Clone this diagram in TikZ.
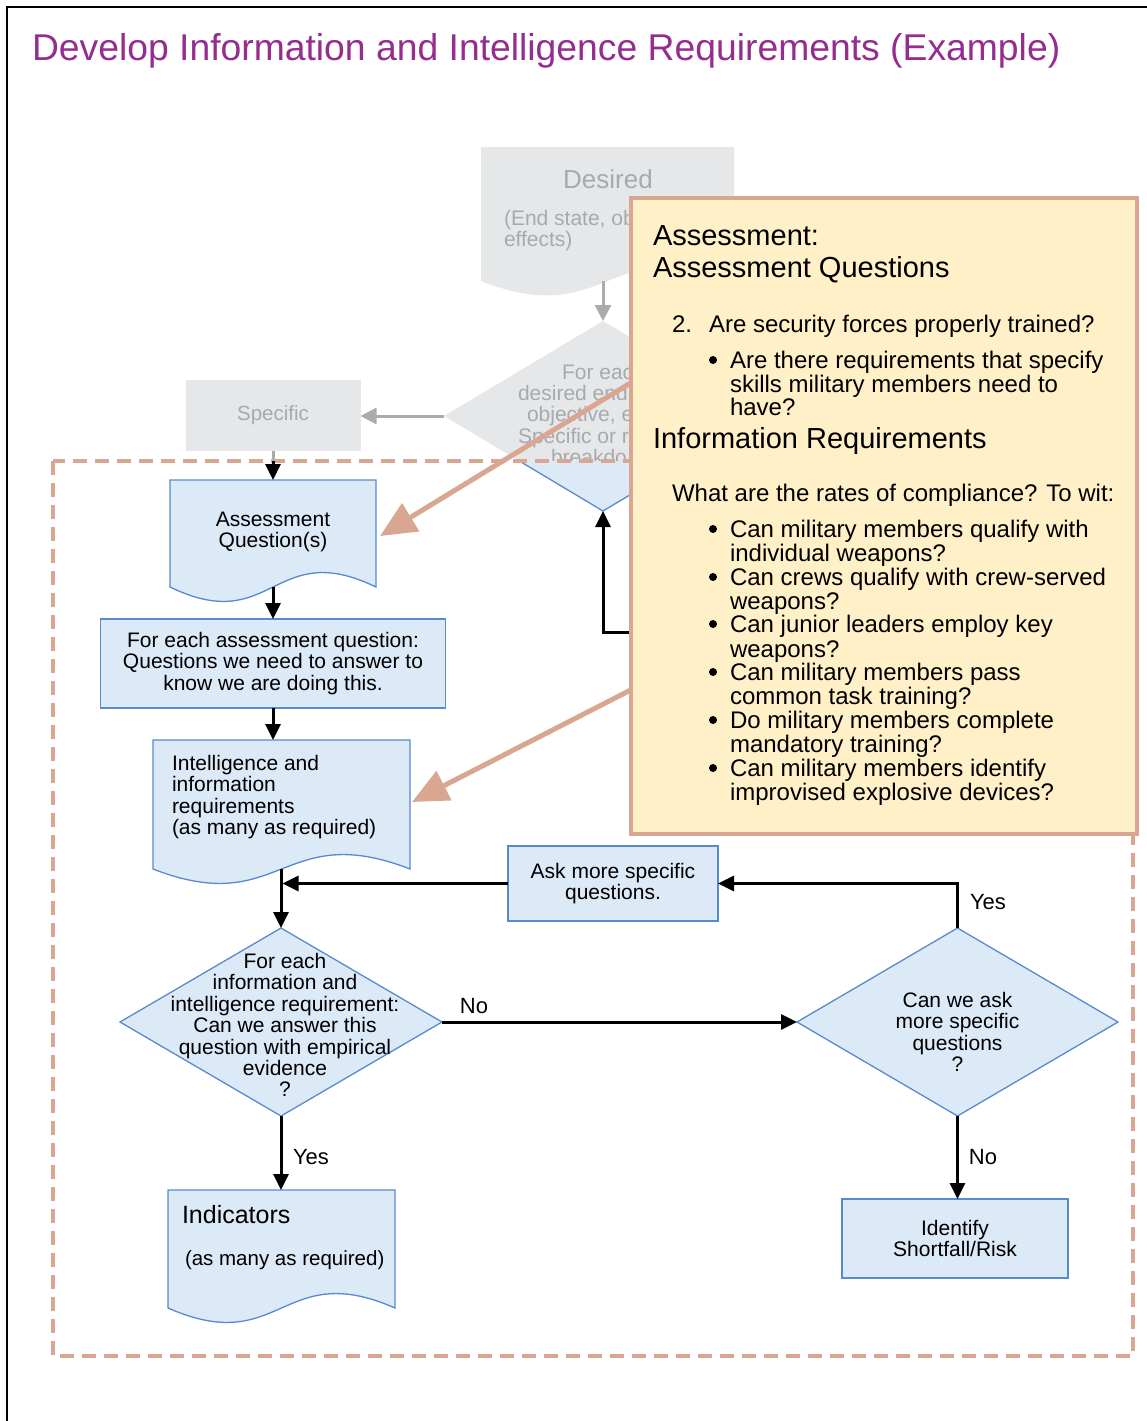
\documentclass[tikz,border=0pt]{standalone}
\usepackage{fontspec}
\setmainfont{Liberation Sans}
\usetikzlibrary{arrows.meta,calc,backgrounds,shapes.geometric}
\definecolor{ttl}{RGB}{149,45,143}
\definecolor{bfill}{RGB}{220,233,247}
\definecolor{bline}{RGB}{88,138,205}
\definecolor{gfill}{RGB}{230,231,232}
\definecolor{gtext}{RGB}{167,169,172}
\definecolor{garrow}{RGB}{171,171,171}
\definecolor{salmon}{RGB}{217,166,146}
\definecolor{yfill}{RGB}{255,240,199}
\newcommand\fsz[2]{\fontsize{#1}{#2}\selectfont}
\newcommand\docwave[2]{\begin{pgfonlayer}{background}\path[#2] (#1.north west) -- (#1.north east) -- (#1.south east) .. controls ($(#1.south)+(0,-50)$) and ($(#1.south)+(0,50)$) .. (#1.south west) -- cycle;\end{pgfonlayer}}
\begin{document}
\begin{tikzpicture}[x=1pt,y=-1pt,
  every node/.style={inner sep=0pt,outer sep=0pt},
  docshape/.style={rectangle},
  bluebox/.style={rectangle,draw=bline,fill=bfill,line width=1.3pt},
  greybox/.style={rectangle,fill=gfill},
  diam/.style={diamond,draw=bline,fill=bfill,line width=1.3pt},
  ftext/.style={font=\fsz{21}{21.4},align=center},
  gtxt/.style={font=\fsz{21}{21},text=gtext,anchor=base west},
  ytxt/.style={font=\fsz{24}{24},anchor=base west},
  yhead/.style={font=\fsz{29}{29},anchor=base west},
  bdot/.style={circle,fill=black,minimum size=8pt},
  lbl/.style={font=\fsz{22}{22}},
  conn/.style={line width=3pt,-{Triangle[length=16pt,width=15pt]}},
  gconn/.style={line width=3pt,draw=garrow,-{Triangle[length=16pt,width=16pt]}},
  sconn/.style={line width=5pt,draw=salmon,-{Triangle[length=36pt,width=32pt]}}]
\useasboundingbox (0,0) rectangle (1147,1421);
% frame
\draw[line width=2.5pt] (7,1421) -- (7,7) -- (1147,7);
% title
\node[font=\fsz{37.3}{37.3},text=ttl,anchor=base west] (title) at (32,60) {Develop Information and Intelligence Requirements (Example)};
% grey (earlier step)
\node[docshape,minimum width=253pt,minimum height=134pt] (des) at (607.5,214) {};
\docwave{des}{fill=gfill}
\node[font=\fsz{26}{26},text=gtext] (dest) at (608,179) {Desired};
\node[gtxt] (desa) at (504,225) {(End state, ob};
\node[gtxt] (desb) at (504,246) {effects)};
\node[diamond,minimum width=318pt,minimum height=190pt] (g) at (603,416) {};
\coordinate (dl) at (0,461);
\begin{scope}
\clip (380,300) rectangle (720,461);
\fill[gfill] (g.north) -- (g.east) -- (g.south) -- (g.west) -- cycle;
\node[gtxt] (ga) at (562,379) {For eac};
\node[gtxt] (gb) at (518,400) {desired end};
\node[gtxt] (gc) at (527,421) {objective, e};
\node[gtxt] (gd) at (518,443) {Specific or r};
\node[gtxt] (ge) at (551,464) {breakdo};
\end{scope}
\begin{scope}
\clip (380,461) rectangle (720,540);
\filldraw[fill=bfill,draw=bline,line width=1.3pt] (g.north) -- (g.east) -- (g.south) -- (g.west) -- cycle;
\end{scope}
\draw[gconn] (g.north |- des.south) -- (g.north);
\node[greybox,minimum width=175pt,minimum height=71pt,font=\fsz{20.5}{20.5},text=gtext] (spec) at (273,415.5) {Specific};
\draw[gconn] (g.west) -- (g.west -| spec.east);
\draw[line width=3pt,garrow] (spec.south) -- (spec.south |- dl);
% dashed frame
\draw[salmon,line width=3.5pt,dash pattern=on 14pt off 8pt] (53,461) rectangle (1133,1356);
% flow nodes
\node[docshape,minimum width=206pt,minimum height=107pt] (aq) at (273,533.5) {};
\docwave{aq}{fill=bfill,draw=bline,line width=1.3pt}
\node[ftext] (aqt) at (273,532) {Assessment\\Question(s)};
\node[bluebox,ftext,minimum width=345pt,minimum height=89pt] (fe) at (273,663.5) {For each assessment question:\\Questions we need to answer to\\know we are doing this.};
\node[docshape,minimum width=257pt,minimum height=129pt] (intel) at (281.5,804.5) {};
\docwave{intel}{fill=bfill,draw=bline,line width=1.3pt}
\node[ftext,align=left,anchor=west] (intelt) at (172,797) {Intelligence and\\information\\requirements\\(as many as required)};
\node[diam,minimum width=322pt,minimum height=188pt] (d1) at (281,1022) {};
\node[ftext] (d1t) at (285,1025) {For each\\information and\\intelligence requirement:\\Can we answer this\\question with empirical\\evidence\\?};
\node[diam,minimum width=321pt,minimum height=188pt] (d2) at (957.5,1022) {};
\node[ftext] (d2t) at (957.5,1032) {Can we ask\\more specific\\questions\\?};
\node[bluebox,ftext,minimum width=210pt,minimum height=75pt] (ask) at (613,883.5) {Ask more specific\\questions.};
\node[bluebox,ftext,minimum width=226pt,minimum height=79pt] (idr) at (955,1238.5) {Identify\\Shortfall/Risk};
\node[docshape,minimum width=227pt,minimum height=118pt] (ind) at (281.5,1249) {};
\docwave{ind}{fill=bfill,draw=bline,line width=1.3pt}
\node[font=\fsz{25}{25},anchor=west] (indt) at (182,1215) {Indicators};
\node[font=\fsz{20.5}{20.5},anchor=west] (indb) at (185,1260) {(as many as required)};
% connectors
\draw[conn] (spec.south |- dl) -- (aq.north);
\draw[conn] (aq.south) -- (fe.north);
\draw[conn] (fe.south) -- (fe.south |- intel.north);
\draw[conn] (intel.south -| d1.north) -- (d1.north);
\draw[conn,shorten >=1.5pt] (ask.west) -- (ask.west -| d1.north);
\draw[conn] (d1.east) -- (d2.west);
\node[lbl] (no1) at (474,1006) {No};
\draw[conn] (d2.north) |- (ask.east);
\node[lbl] (yes1) at (988,902) {Yes};
\draw[conn] (d1.south) -- (d1.south |- ind.north);
\node[lbl] (yes2) at (311,1157) {Yes};
\draw[conn] (d2.south) -- (d2.south |- idr.north);
\node[lbl] (no2) at (983,1157) {No};
\coordinate (c1) at (650,632);
\draw[conn] (c1) -| (g.south);
% salmon pointers
\coordinate (s1) at (660,365);
\coordinate (s2) at (660,675);
\draw[sconn] (s1) -- ($(aq.east)+(4,2.5)$);
\draw[sconn] (s2) -- ($(intel.east)+(2,-2.5)$);
% yellow callout
\node[rectangle,draw=salmon,fill=yfill,line width=4pt,minimum width=506pt,minimum height=636pt] (yb) at (884,516) {};
\node[yhead] (h1) at (653,245) {Assessment:};
\node[yhead] (h2) at (653,277) {Assessment Questions};
\node[ytxt] (q2n) at (672,332) {2.};
\node[ytxt] (q2) at (709,332) {Are security forces properly trained?};
\node[bdot] (bu0) at (713,360) {};
\foreach \yy/\lin [count=\i] in {368/Are there requirements that specify,392/skills military members need to,415/have?}
  \node[ytxt] (at\i) at (730,\yy) {\lin};
\node[yhead] (h3) at (653,448) {Information Requirements};
\node[ytxt] (wit) at (672,501) {What are the rates of compliance? To wit:};
\foreach \yy [count=\i] in {529,577,624,672,720,768}
  \node[bdot] (bu\i) at (713,\yy) {};
\foreach \yy/\lin [count=\i] in {537/Can military members qualify with,561/individual weapons?,585/Can crews qualify with crew-served,609/weapons?,632/Can junior leaders employ key,657/weapons?,680/Can military members pass,704/common task training?,728/Do military members complete,752/mandatory training?,776/Can military members identify,800/improvised explosive devices?}
  \node[ytxt] (bt\i) at (730,\yy) {\lin};
\end{tikzpicture}
\end{document}
